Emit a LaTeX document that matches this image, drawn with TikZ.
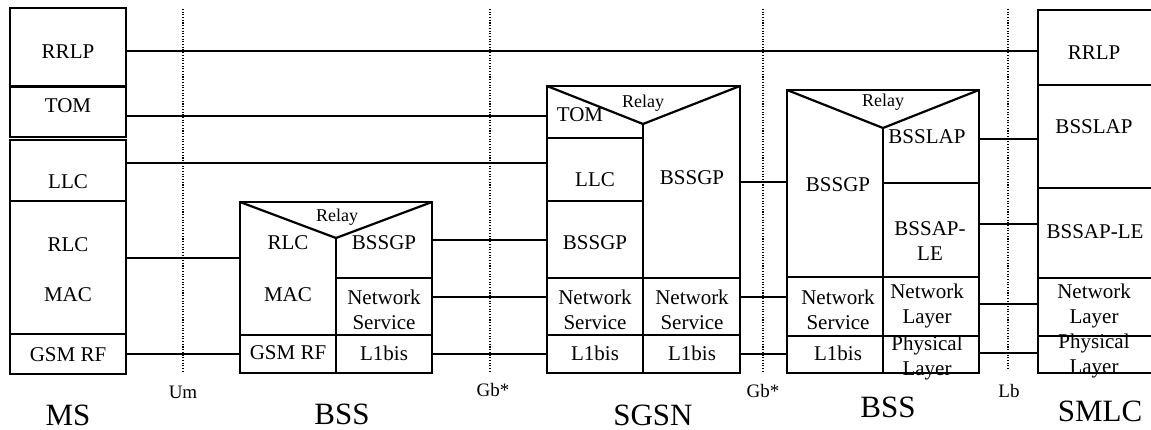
\documentclass[tikz,border=0pt]{standalone}
\usepackage{fontspec}
\setmainfont{Liberation Serif}
\usetikzlibrary{fit}
\begin{document}
\begin{tikzpicture}[x=1pt,y=-1pt,
  lay/.style={draw, line width=2.2pt, inner sep=0pt, outer sep=0pt, rectangle},
  div/.style={line width=2.2pt},
  conn/.style={line width=1.6pt},
  iface/.style={line width=1.4pt, dash pattern=on 1.1pt off 1.6pt},
  txt/.style={inner sep=0pt, font=\fontsize{21}{25}\selectfont, align=center},
  relay/.style={inner sep=0pt, font=\fontsize{18}{22}\selectfont},
  ifl/.style={inner sep=0pt, font=\fontsize{19}{22}\selectfont},
  ent/.style={inner sep=0pt, font=\fontsize{31}{36}\selectfont}]
\useasboundingbox (0,0) rectangle (1151,430);

% interface lines
\draw[iface] (183,9) -- (183,372);
\draw[iface] (490,9) -- (490,372);
\draw[iface] (763,9) -- (763,372);
\draw[iface] (1008,9) -- (1008,370);
\node[ifl] (um) at (183,392) {Um};
\node[ifl] (gba) at (493,390) {Gb*};
\node[ifl] (gbb) at (763,391) {Gb*};
\node[ifl] (lb) at (1009,391) {Lb};

% MS
\node[lay, fit={(10,8)(126,86)}] (msrrlp) {};
\node[lay, fit={(10,87)(126,137)}] (mstom) {};
\node[lay, fit={(10,140)(126,201)}] (msllc) {};
\node[lay, fit={(10,201)(126,334)}] (msmac) {};
\node[lay, fit={(10,334)(126,374)}] (msrf) {};
\node[txt] (t1) at (68,52) {RRLP};
\node[txt] (t2) at (68,106) {TOM};
\node[txt] (t3) at (68,182) {LLC};
\node[txt] (t4) at (68,245) {RLC};
\node[txt] (t5) at (68,295) {MAC};
\node[txt] (t6) at (68,355) {GSM RF};
\node[ent] (ms) at (68,415) {MS};

% BSS (left)
\node[lay, fit={(240,202)(432,373)}] (bssa) {};
\draw[div] (240,202) -- (336,238) -- (432,202);
\draw[div] (336,238) -- (336,373);
\draw[div] (336,278) -- (432,278);
\draw[div] (240,335) -- (432,335);
\node[relay] (ra) at (337,217) {Relay};
\node[txt] (a1) at (288,243) {RLC};
\node[txt] (a2) at (384,243) {BSSGP};
\node[txt] (a3) at (288,295) {MAC};
\node[txt] (a4) at (384,309.5) {Network\\Service};
\node[txt] (a5) at (288,353) {GSM RF};
\node[txt] (a6) at (384,353) {L1bis};
\node[ent] (bssal) at (342,414) {BSS};

% SGSN
\node[lay, fit={(547,86)(740,373)}] (sgsn) {};
\draw[div] (547,86) -- (643,124) -- (740,86);
\draw[div] (643,124) -- (643,373);
\draw[div] (547,138) -- (643,138);
\draw[div] (547,201) -- (643,201);
\draw[div] (547,278) -- (740,278);
\draw[div] (547,335) -- (740,335);
\node[relay] (rs) at (643,103) {Relay};
\node[txt] (s1) at (580,115) {TOM};
\node[txt] (s2) at (595,180) {LLC};
\node[txt] (s3) at (692,178) {BSSGP};
\node[txt] (s4) at (595,243) {BSSGP};
\node[txt] (s5) at (595,309.5) {Network\\Service};
\node[txt] (s6) at (692,309.5) {Network\\Service};
\node[txt] (s7) at (595,353) {L1bis};
\node[txt] (s8) at (692,353) {L1bis};
\node[ent] (sgsnl) at (653,415) {SGSN};

% BSS (right)
\node[lay, fit={(787,90)(979,373)}] (bssb) {};
\draw[div] (787,90) -- (883,128) -- (979,90);
\draw[div] (883,128) -- (883,373);
\draw[div] (883,183) -- (979,183);
\draw[div] (787,277) -- (979,277);
\draw[div] (787,336) -- (979,336);
\node[relay] (rb) at (883,102) {Relay};
\node[txt] (b1) at (927,137) {BSSLAP};
\node[txt] (b2) at (838,185) {BSSGP};
\node[txt] (b3) at (930,241.5) {BSSAP-\\LE};
\node[txt] (b4) at (838,309.5) {Network\\Service};
\node[txt] (b5) at (927,305.5) {Network\\Layer};
\node[txt] (b6) at (927,357.5) {Physical\\Layer};
\node[txt] (b7) at (838,353) {L1bis};
\node[ent] (bssbl) at (888,407) {BSS};

% SMLC
\node[lay, fit={(1038,10)(1158,85)}] (smlcrrlp) {};
\node[lay, fit={(1038,85)(1158,188)}] (smlcbsslap) {};
\node[lay, fit={(1038,188)(1158,278)}] (smlcbssap) {};
\node[lay, fit={(1038,278)(1158,336)}] (smlcnl) {};
\node[lay, fit={(1038,336)(1158,373)}] (smlcpl) {};
\node[txt] (m1) at (1094,53) {RRLP};
\node[txt] (m2) at (1094,127) {BSSLAP};
\node[txt] (m3) at (1095,232) {BSSAP-LE};
\node[txt] (m4) at (1094,305.5) {Network\\Layer};
\node[txt] (m5) at (1094,355.5) {Physical\\Layer};
\node[ent] (smlcl) at (1100,411) {SMLC};

% connectors
\draw[conn] (msrrlp.east |- 0,51) -- (smlcrrlp.west |- 0,51);
\draw[conn] (mstom.east |- 0,116) -- (sgsn.west |- 0,116);
\draw[conn] (msllc.east |- 0,163) -- (sgsn.west |- 0,163);
\draw[conn] (msmac.east |- 0,258) -- (bssa.west |- 0,258);
\draw[conn] (msrf.east |- 0,354) -- (bssa.west |- 0,354);
\draw[conn] (bssa.east |- 0,240) -- (sgsn.west |- 0,240);
\draw[conn] (bssa.east |- 0,297) -- (sgsn.west |- 0,297);
\draw[conn] (bssa.east |- 0,354) -- (sgsn.west |- 0,354);
\draw[conn] (sgsn.east |- 0,182) -- (bssb.west |- 0,182);
\draw[conn] (sgsn.east |- 0,297) -- (bssb.west |- 0,297);
\draw[conn] (sgsn.east |- 0,354) -- (bssb.west |- 0,354);
\draw[conn] (bssb.east |- 0,139) -- (smlcbsslap.west |- 0,139);
\draw[conn] (bssb.east |- 0,224) -- (smlcbssap.west |- 0,224);
\draw[conn] (bssb.east |- 0,304) -- (smlcnl.west |- 0,304);
\draw[conn] (bssb.east |- 0,353) -- (smlcpl.west |- 0,353);
\end{tikzpicture}
\end{document}
